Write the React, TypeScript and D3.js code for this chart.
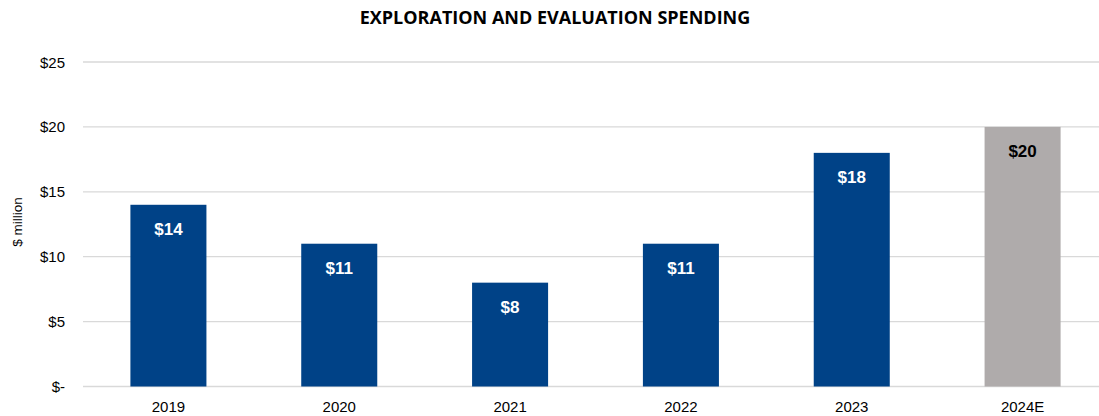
import React from "react";
import * as d3 from "d3";

const categories = ["2019", "2020", "2021", "2022", "2023", "2024E"];
const values = [14, 11, 8, 11, 18, 20];
const estimated = [false, false, false, false, false, true];
const yTicks = [0, 5, 10, 15, 20, 25];

const W = 1099;
const H = 416;

export default function App() {
  const x = d3.scaleBand<string>().domain(categories).range([83, 1108]).paddingInner(0.555).paddingOuter(0.2775);
  const y = d3.scaleLinear().domain([0, 25]).range([386.5, 62]);
  const fmt = (v: number) => (v === 0 ? "$-" : `$${v}`);
  return (
    <svg width={W} height={H} style={{ position: "absolute", left: 0, top: 0 }}>
      <rect width={W} height={H} fill="#fff" />
      <text x={555} y={24} textAnchor="middle" fontFamily="'Open Sans', sans-serif" fontWeight="bold" fontSize={18} fill="#000">
        EXPLORATION AND EVALUATION SPENDING
      </text>
      {yTicks.map((t) => (
        <g key={t}>
          <line x1={83} x2={W} y1={y(t)} y2={y(t)} stroke="#d9d9d9" strokeWidth={1.3} />
          <text x={65} y={y(t) + 5.5} textAnchor="end" fontFamily="'Liberation Sans', Arial, sans-serif" fontSize={15} fill="#000">
            {fmt(t)}
          </text>
        </g>
      ))}
      <text transform={`translate(22,222) rotate(-90)`} textAnchor="middle" fontFamily="'Liberation Sans', Arial, sans-serif" fontSize={13.5} fill="#000">
        $ million
      </text>
      {categories.map((c, i) => {
        const bx = x(c)!;
        const bw = x.bandwidth();
        const top = y(values[i]);
        return (
          <g key={c}>
            <rect x={bx} y={top} width={bw} height={y(0) - top} fill={estimated[i] ? "#afabab" : "#004287"} />
            <text x={bx + bw / 2} y={top + 30} textAnchor="middle" fontFamily="'Liberation Sans', Arial, sans-serif" fontWeight="bold" fontSize={17} fill={estimated[i] ? "#000" : "#fff"}>
              {`$${values[i]}`}
            </text>
            <text x={bx + bw / 2} y={412} textAnchor="middle" fontFamily="'Liberation Sans', Arial, sans-serif" fontSize={15} fill="#000">
              {c}
            </text>
          </g>
        );
      })}
    </svg>
  );
}
